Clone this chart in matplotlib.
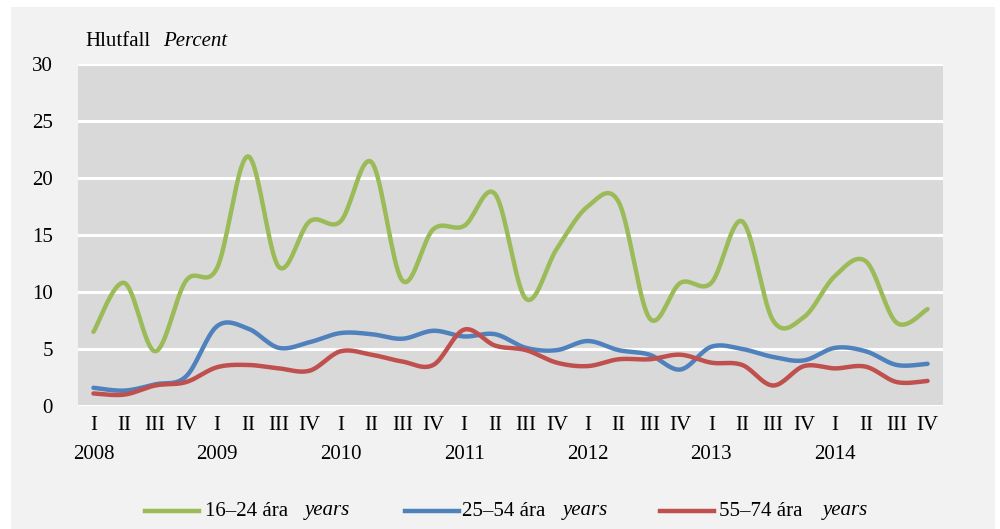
import numpy as np
import matplotlib
matplotlib.use("Agg")
import matplotlib.pyplot as plt
from matplotlib.lines import Line2D
from matplotlib.patches import Rectangle

# quarterly data 2008-2014
years = ["2008", "2009", "2010", "2011", "2012", "2013", "2014"]
quarters = ["I", "II", "III", "IV"]

age_16_24 = [6.5, 10.8, 4.8, 11.0, 12.1, 21.9, 12.2, 16.2, 16.2, 21.4, 11.0, 15.5,
             15.8, 18.6, 9.4, 13.8, 17.5, 17.9, 7.7, 10.8, 10.8, 16.2, 7.5, 7.8,
             11.4, 12.7, 7.3, 8.5]
age_25_54 = [1.6, 1.35, 1.9, 2.6, 7.0, 6.8, 5.1, 5.6, 6.4, 6.3, 5.9, 6.6,
             6.1, 6.3, 5.1, 4.9, 5.7, 4.9, 4.5, 3.2, 5.2, 5.0, 4.3, 4.0,
             5.1, 4.8, 3.6, 3.7]
age_55_74 = [1.1, 1.0, 1.8, 2.1, 3.4, 3.6, 3.3, 3.1, 4.8, 4.5, 3.9, 3.6,
             6.7, 5.3, 4.9, 3.8, 3.5, 4.1, 4.1, 4.5, 3.8, 3.6, 1.8, 3.5,
             3.3, 3.45, 2.1, 2.2]

series = [
    (age_16_24, "#9bbb59", "16\u201324 ára"),
    (age_25_54, "#4f81bd", "25\u201354 ára"),
    (age_55_74, "#c0504d", "55\u201374 ára"),
]


def smooth(y, n=20):
    # Excel style smoothed line: cubic bezier with catmull-rom tangents
    y = np.asarray(y, dtype=float)
    x = np.arange(len(y), dtype=float)
    xs, ys = [], []
    for i in range(len(y) - 1):
        p0 = np.array([x[max(i - 1, 0)], y[max(i - 1, 0)]])
        p1 = np.array([x[i], y[i]])
        p2 = np.array([x[i + 1], y[i + 1]])
        p3 = np.array([x[min(i + 2, len(y) - 1)], y[min(i + 2, len(y) - 1)]])
        c1 = p1 + (p2 - p0) / 6.0
        c2 = p2 - (p3 - p1) / 6.0
        t = np.linspace(0, 1, n)[:, None]
        pts = ((1 - t) ** 3) * p1 + 3 * ((1 - t) ** 2) * t * c1 + 3 * (1 - t) * t ** 2 * c2 + t ** 3 * p2
        xs.extend(pts[:, 0])
        ys.extend(pts[:, 1])
    return np.array(xs), np.array(ys)


plt.rcParams['font.family'] = ['Liberation Serif', 'DejaVu Serif']

fig = plt.figure(figsize=(10, 5.29), dpi=100, facecolor="white")
W, H = 1000, 529
# light grey panel behind everything
fig.add_artist(Rectangle((11 / W, 0), (995 - 11) / W, (529 - 7) / H,
                         transform=fig.transFigure, facecolor="#f2f2f2",
                         edgecolor="none", zorder=0))

ax = fig.add_axes([78 / W, 1 - 406 / H, (943 - 78) / W, (406 - 64) / H])
ax.set_facecolor("#d9d9d9")
n = len(age_16_24)
ax.set_xlim(-0.5, n - 0.5)
ax.set_ylim(0, 30)
ax.set_yticks(range(0, 31, 5))
ax.yaxis.grid(True, color="white", linewidth=2.2)
ax.set_axisbelow(True)
for s in ax.spines.values():
    s.set_visible(False)
ax.tick_params(axis="y", length=0, pad=18, labelsize=15)
ax.set_xticks(range(n))
ax.set_xticklabels([q for _ in years for q in quarters], fontsize=15)
ax.tick_params(axis="x", length=0, pad=7)
for i, yr in enumerate(years):
    ax.text(i * 4, -0.113, yr, transform=ax.get_xaxis_transform(),
            ha="center", va="top", fontsize=15)

for vals, color, _ in series:
    sx, sy = smooth(vals)
    ax.plot(sx, sy, color=color, linewidth=3.2, solid_capstyle="round", clip_on=False)

fig.text(85 / W, 1 - 42 / H, "Hlutfall", fontsize=15, va="center", ha="left")
fig.text(163 / W, 1 - 42 / H, "Percent", fontsize=15, va="center", ha="left", style="italic")

# legend
ly = 1 - 511 / H
legend_items = [(145, 205, 305), (405, 462, 563), (660, 719, 823)]
for (x0, tx, ix), (_, color, label) in zip(legend_items, series):
    fig.add_artist(Line2D([x0 / W, (x0 + 54) / W], [ly, ly], color=color,
                          linewidth=3.2, transform=fig.transFigure))
    fig.text(tx / W, ly, label, fontsize=15, va="center", ha="left")
    fig.text(ix / W, ly, "years", fontsize=15, va="center", ha="left", style="italic")

fig.savefig("out.png", dpi=100, facecolor=fig.get_facecolor())
